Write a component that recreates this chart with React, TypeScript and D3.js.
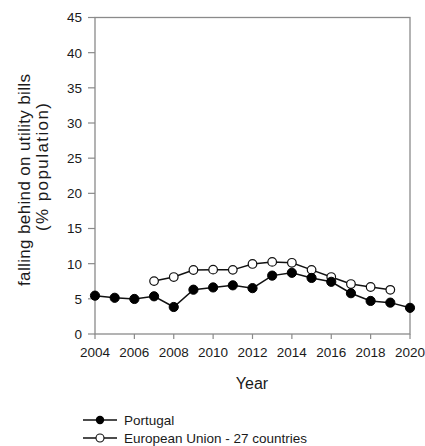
import React from "react";
import * as d3 from "d3";

const years = d3.range(2004, 2021);
const portugal = [5.45, 5.15, 4.98, 5.36, 3.84, 6.3, 6.62, 6.92, 6.52, 8.3, 8.7, 7.97, 7.42, 5.8, 4.7, 4.46, 3.72];
const euYears = d3.range(2007, 2020);
const eu27 = [7.52, 8.1, 9.1, 9.15, 9.12, 9.96, 10.25, 10.12, 9.12, 8.1, 7.1, 6.68, 6.28];
const xTicks = [2004, 2006, 2008, 2010, 2012, 2014, 2016, 2018, 2020];
const yTicks = [0, 5, 10, 15, 20, 25, 30, 35, 40, 45];

const W = 425;
const H = 446;
const left = 95;
const right = 410;
const top = 17.5;
const bottom = 334;
const FONT = "Liberation Sans, Arial, sans-serif";

export default function App() {
  const x = d3.scaleLinear().domain([2004, 2020]).range([left, right]);
  const y = d3.scaleLinear().domain([0, 45]).range([bottom, top]);
  const line = d3
    .line<[number, number]>()
    .x((d) => x(d[0]))
    .y((d) => y(d[1]));
  const ptData: [number, number][] = years.map((yr, i) => [yr, portugal[i]]);
  const euData: [number, number][] = euYears.map((yr, i) => [yr, eu27[i]]);
  const axisColor = "#8a8a8a";
  const textColor = "#1a1a1a";

  return (
    <svg
      width={W}
      height={H}
      style={{ position: "absolute", left: 0, top: 0, background: "#fff" }}
      fontFamily={FONT}
    >
      <rect x={0} y={0} width={W} height={H} fill="#fff" />
      {/* plot frame */}
      <rect
        x={left}
        y={top}
        width={right - left}
        height={bottom - top}
        fill="none"
        stroke={axisColor}
        strokeWidth={1.3}
      />
      {/* y ticks */}
      {yTicks.map((t) => (
        <g key={"y" + t}>
          <line x1={left - 7} x2={left} y1={y(t)} y2={y(t)} stroke={axisColor} strokeWidth={1.2} />
          <text
            x={left - 13}
            y={y(t)}
            dy="0.36em"
            textAnchor="end"
            fontSize={13.5}
            fill={textColor}
          >
            {t}
          </text>
        </g>
      ))}
      {/* x ticks */}
      {xTicks.map((t) => (
        <g key={"x" + t}>
          <line x1={x(t)} x2={x(t)} y1={bottom} y2={bottom + 5} stroke={axisColor} strokeWidth={1.2} />
          <text x={x(t)} y={bottom + 23} textAnchor="middle" fontSize={13.5} fill={textColor}>
            {t}
          </text>
        </g>
      ))}
      {/* axis titles */}
      <text x={252} y={389} textAnchor="middle" fontSize={16} fill={textColor}>
        Year
      </text>
      <text
        transform="translate(24,180) rotate(-90)"
        x={0}
        y={0}
        dy="0.35em"
        textAnchor="middle"
        fontSize={17}
        textLength={212}
        lengthAdjust="spacing"
        fill={textColor}
      >
        falling behind on utility bills
      </text>
      <text
        transform="translate(42,167) rotate(-90)"
        x={0}
        y={0}
        dy="0.35em"
        textAnchor="middle"
        fontSize={17}
        textLength={128}
        lengthAdjust="spacing"
        fill={textColor}
      >
        (% population)
      </text>
      {/* series */}
      <path d={line(euData) || ""} fill="none" stroke="#111" strokeWidth={1.5} />
      <path d={line(ptData) || ""} fill="none" stroke="#111" strokeWidth={1.5} />
      {euData.map((d, i) => (
        <circle key={"e" + i} cx={x(d[0])} cy={y(d[1])} r={4.3} fill="#fff" stroke="#111" strokeWidth={1.2} />
      ))}
      {ptData.map((d, i) => (
        <circle key={"p" + i} cx={x(d[0])} cy={y(d[1])} r={4.6} fill="#000" stroke="#000" strokeWidth={1} />
      ))}
      {/* legend */}
      <g>
        <line x1={83} x2={117} y1={420} y2={420} stroke="#111" strokeWidth={1.5} />
        <circle cx={100} cy={420} r={4.2} fill="#000" />
        <text x={124} y={420} dy="0.35em" fontSize={13.5} fill={textColor}>
          Portugal
        </text>
        <line x1={83} x2={117} y1={438} y2={438} stroke="#111" strokeWidth={1.3} />
        <circle cx={100} cy={438} r={4} fill="#fff" stroke="#111" strokeWidth={1.1} />
        <text x={124} y={438} dy="0.35em" fontSize={13.5} fill={textColor}>
          European Union - 27 countries
        </text>
      </g>
    </svg>
  );
}
